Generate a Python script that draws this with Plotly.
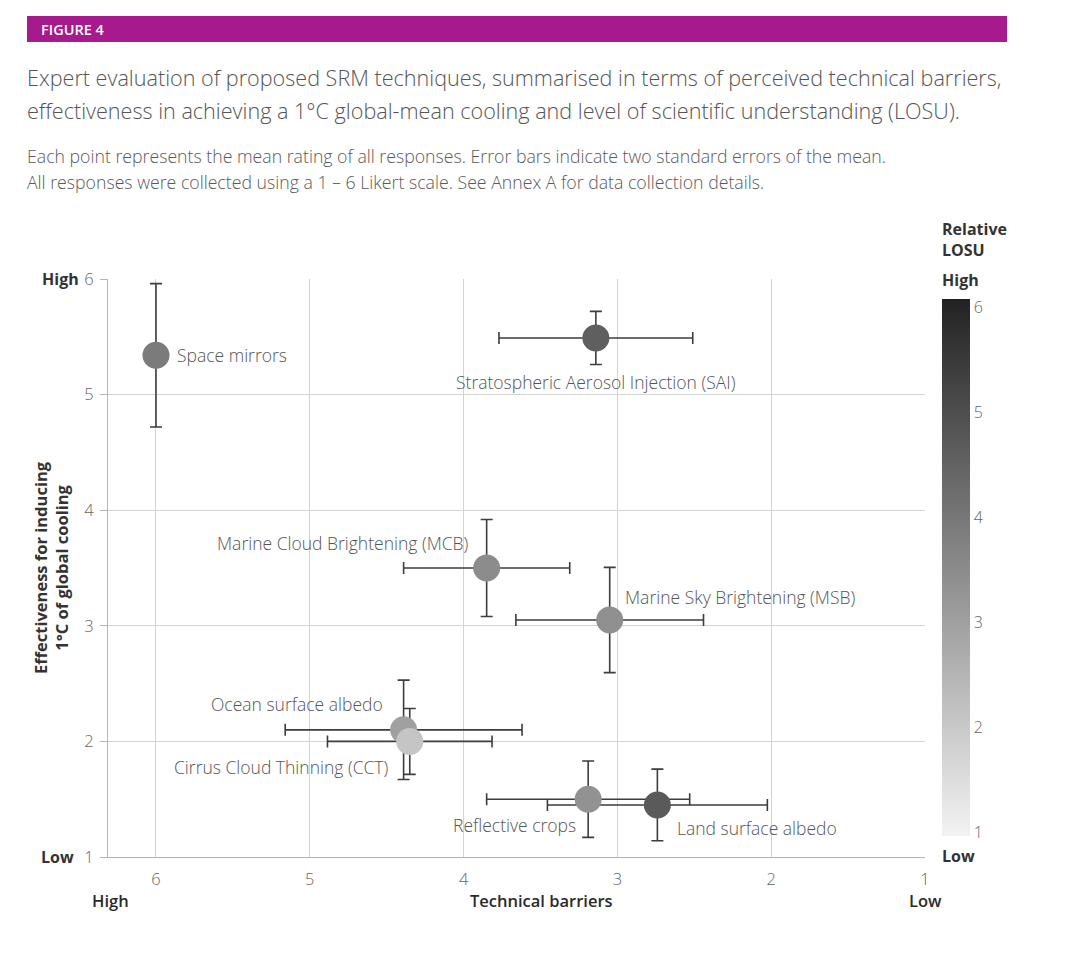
import plotly.graph_objects as go

# ---------------- data ----------------
techniques = [
    "Space mirrors",
    "Stratospheric Aerosol Injection (SAI)",
    "Marine Cloud Brightening (MCB)",
    "Marine Sky Brightening (MSB)",
    "Ocean surface albedo",
    "Cirrus Cloud Thinning (CCT)",
    "Reflective crops",
    "Land surface albedo",
]
technical_barriers = [6.0, 3.14, 3.85, 3.05, 4.39, 4.35, 3.19, 2.74]
technical_barriers_err = [0.0, 0.63, 0.54, 0.61, 0.77, 0.535, 0.66, 0.715]
effectiveness = [5.34, 5.49, 3.50, 3.05, 2.10, 2.00, 1.50, 1.45]
effectiveness_err = [0.62, 0.23, 0.42, 0.455, 0.43, 0.285, 0.33, 0.31]
losu = [3.9, 4.6, 3.5, 3.4, 3.0, 2.1, 3.35, 4.7]
axis_ticks = [1, 2, 3, 4, 5, 6]

# ---------------- layout helpers ----------------
OFF = 8  # page body margin
W, H = 1067, 937
L, T = 108 - OFF, 279 - OFF
R = W - (925 - OFF)
B = H - (857 - OFF)
PW, PH = W - L - R, H - T - B
FONT = "Open Sans"


def px(x):
    return (x - OFF - L) / PW


def py(y):
    return (H - B - (y - OFF)) / PH


# label placement (pixel offsets from marker)
label_style = {
    "Space mirrors": dict(xanchor="left", xshift=19, yshift=0),
    "Stratospheric Aerosol Injection (SAI)": dict(xanchor="center", xshift=0, yshift=-44),
    "Marine Cloud Brightening (MCB)": dict(xanchor="right", xshift=-16, yshift=25),
    "Marine Sky Brightening (MSB)": dict(xanchor="left", xshift=13, yshift=23),
    "Ocean surface albedo": dict(xanchor="right", xshift=-19, yshift=26),
    "Cirrus Cloud Thinning (CCT)": dict(xanchor="right", xshift=-19, yshift=-26),
    "Reflective crops": dict(xanchor="right", xshift=-10, yshift=-26),
    "Land surface albedo": dict(xanchor="left", xshift=18, yshift=-23),
}

fig = go.Figure()
fig.add_trace(
    go.Scatter(
        x=technical_barriers,
        y=effectiveness,
        mode="markers",
        text=techniques,
        error_x=dict(type="data", array=technical_barriers_err, color="#3d3d3d", thickness=1.6, width=6),
        error_y=dict(type="data", array=effectiveness_err, color="#3d3d3d", thickness=1.6, width=6),
        marker=dict(
            size=27,
            color=losu,
            cmin=0.97,
            cmax=6.08,
            colorscale=[[0, "#f3f3f3"], [1, "#222222"]],
            line=dict(width=0),
            showscale=True,
            colorbar=dict(
                x=px(942),
                xanchor="left",
                xpad=0,
                y=py(836),
                yanchor="bottom",
                ypad=0,
                len=(836 - 299) / PH,
                lenmode="fraction",
                thickness=28,
                thicknessmode="pixels",
                outlinewidth=0,
                tickvals=axis_ticks,
                ticks="",
                tickfont=dict(family=FONT, size=16, color="#666666", weight=300),
            ),
        ),
        hoverinfo="text",
        showlegend=False,
        cliponaxis=False,
    )
)

annotations = []
for name, xv, yv in zip(techniques, technical_barriers, effectiveness):
    st = label_style[name]
    annotations.append(
        dict(
            x=xv, y=yv, xref="x", yref="y", text=name, showarrow=False,
            xanchor=st["xanchor"], yanchor="middle", xshift=st["xshift"], yshift=st["yshift"],
            font=dict(family=FONT, size=17.5, color="#555555", weight=300),
        )
    )


def ann(text, x, y, xanchor="left", size=14, color="#333333", bold=False, yanchor="middle", angle=0, align="left", weight=None):
    t = f"<b>{text}</b>" if bold else text
    f = dict(family=FONT, size=size, color=color)
    if weight is not None:
        f["weight"] = weight
    annotations.append(
        dict(
            x=px(x), y=py(y), xref="paper", yref="paper", text=t, showarrow=False,
            xanchor=xanchor, yanchor=yanchor, textangle=angle, align=align,
            font=f,
        )
    )


# header and titles
ann("FIGURE 4", 39, 29, size=14.5, color="#ffffff", weight=600)
ann("Expert evaluation of proposed SRM techniques, summarised in terms of perceived technical barriers,", 25, 78, size=21.6, color="#555555", weight=300)
ann("effectiveness in achieving a 1°C global-mean cooling and level of scientific understanding (LOSU).", 25, 110, size=21.6, color="#555555", weight=300)
ann("Each point represents the mean rating of all responses. Error bars indicate two standard errors of the mean.", 25, 156, size=17.7, color="#5a5a5a", weight=300)
ann("All responses were collected using a 1 – 6 Likert scale. See Annex A for data collection details.", 25, 182, size=17.7, color="#5a5a5a", weight=300)

# axis side labels
ann("High", 81, 279, xanchor="right", size=16, bold=True)
ann("Low", 76, 857, xanchor="right", size=16, bold=True)
ann("Effectiveness for inducing<br>1°C of global cooling", 51, 568, xanchor="center", size=16.5, bold=True, angle=-90, align="center")
ann("High", 110, 900, xanchor="center", size=16.5, color="#2a2a2a", weight=600)
ann("Technical barriers", 541, 900, xanchor="center", size=16.5, color="#2a2a2a", weight=600)
ann("Low", 925, 900, xanchor="center", size=16.5, color="#2a2a2a", weight=600)

# colorbar labels
ann("Relative<br>LOSU", 940, 240, size=16, bold=True)
ann("High", 940, 280, size=16, bold=True)
ann("Low", 940, 856, size=16, bold=True)

shapes = [
    dict(type="rect", xref="paper", yref="paper", x0=px(27), x1=px(1007), y0=py(42), y1=py(16),
         fillcolor="#a71a8d", line=dict(width=0), layer="below"),
    dict(type="rect", xref="paper", yref="paper", x0=px(1067), x1=px(1071), y0=py(945), y1=py(8),
         fillcolor="#ececec", line=dict(width=0)),
    dict(type="rect", xref="paper", yref="paper", x0=px(1071), x1=px(1075), y0=py(945), y1=py(8),
         fillcolor="#1e1e1e", line=dict(width=0)),
]

fig.update_layout(
    width=W,
    height=H,
    margin=dict(l=L, r=R, t=T, b=B, pad=0),
    paper_bgcolor="white",
    plot_bgcolor="white",
    font=dict(family=FONT, color="#666666"),
    annotations=annotations,
    shapes=shapes,
    xaxis=dict(
        range=[6.312, 1.0],
        tickvals=axis_ticks,
        showgrid=True,
        gridcolor="#d3d3d3",
        gridwidth=1,
        zeroline=False,
        showline=True,
        linecolor="#b5b5b5",
        linewidth=1,
        ticks="",
        ticklabelstandoff=7,
        tickfont=dict(family=FONT, size=16.5, color="#666666", weight=300),
        fixedrange=True,
    ),
    yaxis=dict(
        range=[1, 6],
        tickvals=axis_ticks,
        showgrid=True,
        gridcolor="#d3d3d3",
        gridwidth=1,
        zeroline=False,
        showline=True,
        linecolor="#b5b5b5",
        linewidth=1,
        ticks="outside",
        ticklen=7,
        tickcolor="#b5b5b5",
        ticklabelstandoff=3,
        tickfont=dict(family=FONT, size=16.5, color="#666666", weight=300),
        fixedrange=True,
    ),
)

fig.write_html("out.html")
